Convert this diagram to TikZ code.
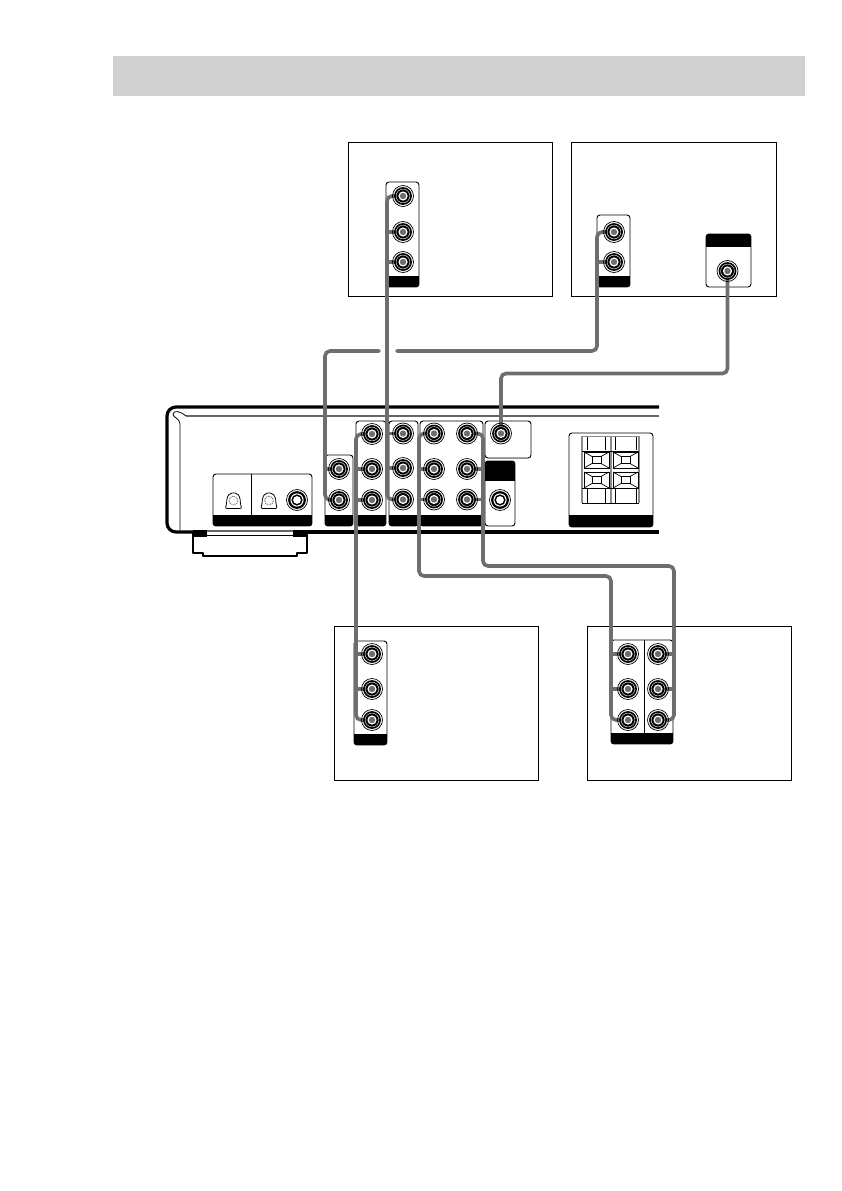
\documentclass[tikz,border=0pt]{standalone}
\usetikzlibrary{calc}
\pgfdeclarelayer{under}
\pgfdeclarelayer{mid}
\pgfsetlayers{under,mid,main}
\definecolor{cablegray}{HTML}{6E6E6E}
\tikzset{
  framebox/.style={draw=black,line width=1pt,fill=white},
  cable/.style={draw=cablegray,line width=3.6pt,rounded corners=5pt,line cap=round},
  jackbase/.style={circle,draw=black,line width=.7pt,fill=none,minimum size=21pt,inner sep=0pt,outer sep=0pt},
  jack/.style={jackbase,path picture={
    \fill[black] (path picture bounding box.center) circle (8.9pt);
    \draw[white,line width=.4pt] (path picture bounding box.center) circle (6.9pt);
    \fill[white] (path picture bounding box.center) circle (4.6pt);
    \fill[cablegray] (path picture bounding box.center) circle (3.2pt);
  }},
  freejack/.style={jackbase,path picture={
    \fill[black] (path picture bounding box.center) circle (8.9pt);
    \fill[white] (path picture bounding box.center) circle (6.6pt);
    \fill[black] (path picture bounding box.center) circle (5.6pt);
    \fill[white] (path picture bounding box.center) circle (3.9pt);
  }},
  shell/.style={line width=3.2pt,draw=black,rounded corners=9pt},
  thinline/.style={line width=1.2pt,draw=black!60},
  optical/.pic={
    \draw[line width=.8pt,fill=white,rounded corners=2pt] (-6.8,-3) -- (-3.5,-8) -- (3.5,-8) -- (6.8,-3) -- (6.8,3) -- (8.4,7.5) -- (-8.4,7.5) -- (-6.8,3) -- cycle;
    \draw[black!55,line width=1pt,dash pattern=on .9pt off .9pt] (0,-.5) circle (4.4pt);
  },
  spk/.pic={
    \draw[line width=.8pt,fill=white] (0,0) rectangle (25,16);
    \draw[line width=.7pt] (8,4.5) rectangle (17,11.5);
    \draw[line width=.7pt] (0,0) -- (8,4.5) (25,0) -- (17,4.5) (0,16) -- (8,11.5) (25,16) -- (17,11.5);
  }
}
\newcommand{\devpanel}[6]{% name x1 y1 x2 y2 ybar
  \node[rectangle,draw=black,line width=.9pt,fill=white,rounded corners=3pt,inner sep=0pt,outer sep=0pt,
    minimum width=#4pt-#2pt,minimum height=#5pt-#3pt] (#1) at ({(#2+#4)/2},{(#3+#5)/2}) {};
  \begin{scope}
    \clip[rounded corners=3pt] (#2,#3) rectangle (#4,#5);
    \fill[black] (#2,#6) rectangle (#4,#5);
  \end{scope}}
\newcommand{\toppanel}[6]{% black band on top
  \node[rectangle,draw=black,line width=.9pt,fill=white,rounded corners=3pt,inner sep=0pt,outer sep=0pt,
    minimum width=#4pt-#2pt,minimum height=#5pt-#3pt] (#1) at ({(#2+#4)/2},{(#3+#5)/2}) {};
  \begin{scope}
    \clip[rounded corners=3pt] (#2,#3) rectangle (#4,#5);
    \fill[black] (#2,#3) rectangle (#4,#6);
  \end{scope}}
\begin{document}
\begin{tikzpicture}[x=1pt,y=-1pt]
\useasboundingbox (0,0) rectangle (841,1191);
\begin{pgfonlayer}{under}
% header band
\fill[black!18] (113,56) rectangle (805,96);
% outer frames
\draw[framebox] (348,142) rectangle (552,296);
\draw[framebox] (571,142) rectangle (776,296);
\draw[framebox] (334,626) rectangle (538,780);
\draw[framebox] (587,626) rectangle (791,780);
% receiver body
\draw[shell] (659,407) -- (167,407) -- (167,532) -- (193,532);
\draw[shell] (293,532) -- (659,532);
\draw[thinline] (186,416) -- (659,416);
\draw[line width=.8pt] (180,530) -- (180,424) .. controls (180,418) and (173,418) .. (173,414) .. controls (174,410) and (180,411) .. (186,416);
\draw[thinline] (207,531) -- (293,531);
% foot
\draw[line width=2.6pt,line join=round] (193,533) -- (193,553) -- (203,553) -- (203,556) -- (297,556) -- (297,553) -- (307,553) -- (307,533);
\draw[line width=.9pt] (193,535.7) -- (307,535.7);
\fill[black] (193,530) rectangle (207,536.5);
\fill[black] (293,530) rectangle (307,536.5);
% receiver panels
\devpanel{pDigital}{213}{474}{312}{526}{515}
\draw[line width=.8pt] (251,474) -- (251,515);
\devpanel{pA}{325}{455}{353}{526}{515}
\devpanel{pB}{356}{421}{386}{526}{515}
\devpanel{pC}{389}{421}{418}{526}{515}
\devpanel{pD}{420}{421}{483}{526}{515}
\devpanel{pE}{485}{421}{531}{458}{458}
\toppanel{pF}{485}{461}{515}{526}{481}
\devpanel{pSpeaker}{569}{433}{653}{527}{515}
% speaker terminals
\draw[black!45,line width=1.6pt] (582,436.5) -- (639,436.5) (582,436) -- (582,503) (639,436) -- (639,503) (611,436) -- (611,503);
\draw[line width=.8pt] (582,451) -- (639,451) (582,488.5) -- (639,488.5) (582,503) -- (639,503)
  (587,437) -- (587,450) (605,437) -- (605,450) (615,437) -- (615,450) (636,437) -- (636,450)
  (587,489) -- (587,503) (605,489) -- (605,503) (615,489) -- (615,503) (636,489) -- (636,503);
\pic at (584,452) {spk};
\pic at (613,452) {spk};
\pic at (584,472) {spk};
\pic at (613,472) {spk};
% digital connectors
\pic at (233.5,501) {optical};
\pic at (269,501) {optical};
% panels of the components
\devpanel{pTL}{386}{182}{419}{287}{276}
\devpanel{pTR}{597}{215}{630}{287}{276}
\toppanel{pAnt}{706}{234}{751}{287}{247}
\devpanel{pBL}{354}{641}{387}{745}{734}
\devpanel{pBR}{611}{640}{673}{744}{733}
\draw[line width=.8pt] (644,640) -- (644,744);
\end{pgfonlayer}
% bend positions of the cables
\coordinate (xTL) at (387,0);
\coordinate (xTR) at (597,0);
\coordinate (xA) at (325,0);
\coordinate (xB) at (356,0);
\coordinate (xD) at (419,0);
\coordinate (xE) at (483,0);
\coordinate (xBRa) at (611,0);
\coordinate (xBRb) at (674,0);
\coordinate (yA) at (0,351);
\coordinate (yAnt) at (0,373.5);
\coordinate (yD) at (0,576);
\coordinate (yE) at (0,566);
\coordinate (gapR) at (397,351);
\coordinate (gapL) at (379,351);
% jacks
\node[jack] (tl1) at (403,196) {};
\node[jack] (tl2) at (403,232) {};
\node[jack] (tl3) at (403,262) {};
\node[jack] (tr1) at (614,232) {};
\node[jack] (tr2) at (614,262) {};
\node[jack] (ant) at (727.5,271) {};
\node[jack] (a1) at (339,469) {};
\node[jack] (a2) at (339,500) {};
\node[jack] (b1) at (372,434) {};
\node[jack] (b2) at (372,469) {};
\node[jack] (b3) at (372,500) {};
\node[jack] (c1) at (403,433.5) {};
\node[jack] (c2) at (403,468) {};
\node[jack] (c3) at (403,499.5) {};
\node[jack] (d1) at (434,433.5) {};
\node[jack] (d2) at (434,469) {};
\node[jack] (d3) at (434,499.5) {};
\node[jack] (e1) at (467,433.5) {};
\node[jack] (e2) at (467,469) {};
\node[jack] (e3) at (467,499.5) {};
\node[jack] (f1) at (501,433.5) {};
\node[freejack] (f2) at (500,500) {};
\node[freejack] (dig) at (297,500) {};
\node[jack] (bl1) at (372,654) {};
\node[jack] (bl2) at (372,689) {};
\node[jack] (bl3) at (372,720) {};
\node[jack] (ba1) at (628,654) {};
\node[jack] (ba2) at (628,689) {};
\node[jack] (ba3) at (628,720) {};
\node[jack] (bb1) at (658,654) {};
\node[jack] (bb2) at (658,689) {};
\node[jack] (bb3) at (658,720) {};
% cables, under the jacks
\begin{pgfonlayer}{mid}
\draw[cable] (tl1.center) -- (tl1 -| xTL) -- (c3 -| xTL) -- (c3.center);
\draw[cable] (tl2.center) -- (tl2 -| xTL);
\draw[cable] (tl3.center) -- (tl3 -| xTL);
\draw[cable] (c1.center) -- (c1 -| xTL);
\draw[cable] (c2.center) -- (c2 -| xTL);
\draw[cable] (tr1.center) -- (tr1 -| xTR) -- (xTR |- yA) -- (gapR);
\draw[cable] (tr2.center) -- (tr2 -| xTR);
\draw[cable] (gapL) -- (xA |- yA) -- (a2 -| xA) -- (a2.center);
\draw[cable] (a1.center) -- (a1 -| xA);
\draw[cable] (ant.center) -- (ant |- yAnt) -- (f1 |- yAnt) -- (f1.center);
\draw[cable] (b1.center) -- (b1 -| xB) -- (bl3 -| xB) -- (bl3.center);
\draw[cable] (b2.center) -- (b2 -| xB);
\draw[cable] (b3.center) -- (b3 -| xB);
\draw[cable] (bl1.center) -- (bl1 -| xB);
\draw[cable] (bl2.center) -- (bl2 -| xB);
\draw[cable] (d1.center) -- (d1 -| xD) -- (xD |- yD) -- (xBRa |- yD) -- (ba3 -| xBRa) -- (ba3.center);
\draw[cable] (d2.center) -- (d2 -| xD);
\draw[cable] (d3.center) -- (d3 -| xD);
\draw[cable] (ba1.center) -- (ba1 -| xBRa);
\draw[cable] (ba2.center) -- (ba2 -| xBRa);
\draw[cable] (e1.center) -- (e1 -| xE) -- (xE |- yE) -- (xBRb |- yE) -- (bb3 -| xBRb) -- (bb3.center);
\draw[cable] (e2.center) -- (e2 -| xE);
\draw[cable] (e3.center) -- (e3 -| xE);
\draw[cable] (bb1.center) -- (bb1 -| xBRb);
\draw[cable] (bb2.center) -- (bb2 -| xBRb);
\end{pgfonlayer}
\end{tikzpicture}
\end{document}
